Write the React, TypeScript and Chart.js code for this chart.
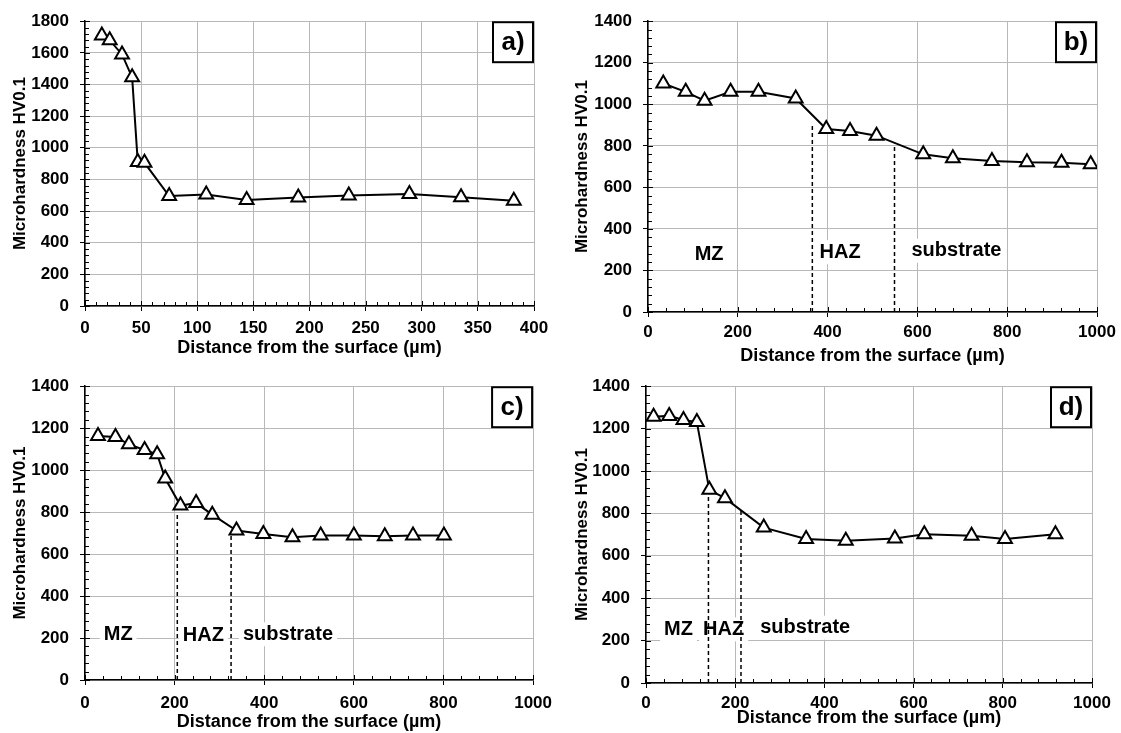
import React, { useEffect, useRef } from 'react';
import { Chart, registerables } from 'chart.js';

Chart.register(...registerables);
Chart.defaults.font.family = "'Liberation Sans', Arial, sans-serif";
Chart.defaults.font.weight = 'bold';
Chart.defaults.color = '#000';

// ---------- Panel a ----------
const aX = [15, 22, 33, 42, 47, 53, 75, 108, 144, 190, 235, 289, 335, 382];
const aY = [1710, 1680, 1590, 1445, 910, 905, 695, 705, 670, 685, 698, 708, 688, 665];

// ---------- Panel b ----------
const bX = [34, 84, 126, 184, 246, 329, 397, 450, 509, 613, 679, 766, 844, 921, 986];
const bY = [1100, 1060, 1017, 1060, 1060, 1028, 881, 871, 849, 759, 740, 727, 721, 719, 711];
const bDashX = [366, 549];
const bDashTop = [900, 810];
const bZoneText = ['MZ', 'HAZ', 'substrate'];
const bZoneX = [136, 428, 687];
const bZoneY = [275, 288, 295];

// ---------- Panel c ----------
const cX = [29, 68, 98, 133, 161, 179, 213, 248, 284, 338, 398, 463, 526, 600, 669, 732, 801];
const cY = [1163, 1158, 1123, 1096, 1076, 960, 831, 843, 788, 712, 696, 680, 688, 688, 685, 688, 688];
const cDashX = [206, 326];
const cDashTop = [800, 704];
const cZoneText = ['MZ', 'HAZ', 'substrate'];
const cZoneX = [74, 264, 453];
const cZoneY = [218, 212, 218];

// ---------- Panel d ----------
const dX = [17, 52, 84, 114, 142, 177, 264, 359, 448, 558, 624, 730, 805, 918];
const dY = [1256, 1260, 1241, 1231, 911, 872, 733, 679, 671, 682, 702, 695, 679, 702];
const dDashX = [140, 213];
const dDashTop = [905, 825];
const dZoneText = ['MZ', 'HAZ', 'substrate'];
const dZoneX = [73, 174, 357];
const dZoneY = [253, 253, 261];

const xTitle = 'Distance from the surface (µm)';
const yTitle = 'Microhardness HV0.1';

type PanelCfg = {
  id: string; left: number; top: number; w: number; h: number;
  padTop: number; padRight: number; yW: number; xH: number;
  xTickPad: number; xTitlePad: number; yTickPad: number; yTitlePad: number;
  xMax: number; xStep: number; yMax: number; yStep: number;
  label: string; xs: number[]; ys: number[];
  dashX: number[]; dashTop: number[];
  zoneText: string[]; zoneX: number[]; zoneY: number[];
};

const panels: PanelCfg[] = [
  { id: 'a', left: 0, top: 0, w: 560, h: 365, padTop: 17, padRight: 26, yW: 85, xH: 59,
    xTickPad: 7, xTitlePad: 6, yTickPad: 11, yTitlePad: 10,
    xMax: 400, xStep: 50, yMax: 1800, yStep: 200, label: 'a)', xs: aX, ys: aY,
    dashX: [], dashTop: [], zoneText: [], zoneX: [], zoneY: [] },
  { id: 'b', left: 560, top: 0, w: 561, h: 368, padTop: 19, padRight: 24, yW: 88, xH: 56,
    xTickPad: 5, xTitlePad: 1, yTickPad: 11, yTitlePad: 12,
    xMax: 1000, xStep: 200, yMax: 1400, yStep: 200, label: 'b)', xs: bX, ys: bY,
    dashX: bDashX, dashTop: bDashTop, zoneText: bZoneText, zoneX: bZoneX, zoneY: bZoneY },
  { id: 'c', left: 0, top: 365, w: 560, h: 368, padTop: 20, padRight: 25, yW: 85, xH: 53,
    xTickPad: 8, xTitlePad: 0, yTickPad: 11, yTitlePad: 10,
    xMax: 1000, xStep: 200, yMax: 1400, yStep: 200, label: 'c)', xs: cX, ys: cY,
    dashX: cDashX, dashTop: cDashTop, zoneText: cZoneText, zoneX: cZoneX, zoneY: cZoneY },
  { id: 'd', left: 560, top: 365, w: 561, h: 368, padTop: 18, padRight: 29, yW: 86, xH: 50,
    xTickPad: 5, xTitlePad: 4, yTickPad: 11, yTitlePad: 12,
    xMax: 1000, xStep: 200, yMax: 1400, yStep: 200, label: 'd)', xs: dX, ys: dY,
    dashX: dDashX, dashTop: dDashTop, zoneText: dZoneText, zoneX: dZoneX, zoneY: dZoneY },
];

const FONT = "'Liberation Sans', Arial, sans-serif";

function makeChart(canvas: HTMLCanvasElement, p: PanelCfg) {
  const datasets: any[] = [
    {
      data: p.xs.map((x, i) => ({ x, y: p.ys[i] })),
      showLine: true,
      borderColor: '#000',
      borderWidth: 2,
      tension: 0,
      pointStyle: 'triangle',
      pointRadius: 8,
      pointHoverRadius: 8,
      pointBorderWidth: 2,
      pointBackgroundColor: '#fff',
      pointBorderColor: '#000',
    },
  ];
  p.dashX.forEach((x, i) => {
    datasets.push({
      data: [{ x, y: 0 }, { x, y: p.dashTop[i] }],
      showLine: true,
      borderColor: '#000',
      borderWidth: 1.5,
      borderDash: [4, 3],
      pointRadius: 0,
      pointHoverRadius: 0,
    });
  });

  const minorTicks = {
    id: 'minorTicks' + p.id,
    afterDraw(chart: any) {
      const ctx = chart.ctx;
      const { bottom, left } = chart.chartArea;
      const xs = chart.scales.x;
      const ys = chart.scales.y;
      ctx.save();
      ctx.strokeStyle = '#000';
      ctx.lineWidth = 1;
      const xn = Math.round(p.xMax / (p.xStep / 5));
      for (let i = 0; i <= xn; i++) {
        const v = (i * p.xStep) / 5;
        const px = Math.round(xs.getPixelForValue(v)) + 0.5;
        const len = i % 5 === 0 ? 5 : 4;
        ctx.beginPath();
        ctx.moveTo(px, bottom);
        ctx.lineTo(px, bottom - len);
        ctx.stroke();
      }
      const yn = Math.round(p.yMax / (p.yStep / 5));
      for (let i = 0; i <= yn; i++) {
        const v = (i * p.yStep) / 5;
        const py = Math.round(ys.getPixelForValue(v)) + 0.5;
        const len = i % 5 === 0 ? 5 : 4;
        ctx.beginPath();
        ctx.moveTo(left, py);
        ctx.lineTo(left + len, py);
        ctx.stroke();
      }
      ctx.restore();
    },
  };

  const zoneLabels = {
    id: 'zones' + p.id,
    beforeDatasetsDraw(chart: any) {
      const ctx = chart.ctx;
      const xs = chart.scales.x;
      const ys = chart.scales.y;
      ctx.save();
      ctx.font = `bold 20px ${FONT}`;
      ctx.textAlign = 'center';
      ctx.textBaseline = 'middle';
      p.zoneText.forEach((t, i) => {
        const cx = xs.getPixelForValue(p.zoneX[i]);
        const cy = ys.getPixelForValue(p.zoneY[i]);
        const w = ctx.measureText(t).width;
        ctx.fillStyle = '#fff';
        ctx.fillRect(cx - w / 2 - 4, cy - 12, w + 8, 24);
        ctx.fillStyle = '#000';
        ctx.fillText(t, cx, cy);
      });
      ctx.restore();
    },
  };

  const panelBox = {
    id: 'box' + p.id,
    afterDraw(chart: any) {
      const ctx = chart.ctx;
      const { right, top } = chart.chartArea;
      const size = 42;
      ctx.save();
      ctx.fillStyle = '#fff';
      ctx.fillRect(right - size, top, size, size);
      ctx.strokeStyle = '#000';
      ctx.lineWidth = 2;
      ctx.strokeRect(right - size + 1, top + 1, size - 2, size - 2);
      ctx.fillStyle = '#000';
      ctx.font = `bold 26px ${FONT}`;
      ctx.textAlign = 'center';
      ctx.textBaseline = 'middle';
      ctx.fillText(p.label, right - size / 2, top + size / 2 + 1);
      ctx.restore();
    },
  };

  const plain = (v: any) => String(v);

  return new Chart(canvas, {
    type: 'scatter',
    data: { datasets },
    options: {
      animation: false,
      responsive: false,
      events: [],
      layout: { padding: { left: 0, top: p.padTop, right: p.padRight, bottom: 0 } },
      plugins: { legend: { display: false }, tooltip: { enabled: false } },
      scales: {
        x: {
          type: 'linear',
          min: 0,
          max: p.xMax,
          ticks: {
            stepSize: p.xStep,
            padding: p.xTickPad,
            autoSkip: false,
            maxRotation: 0,
            color: '#000',
            font: { size: 17, weight: 'bold', family: FONT },
            callback: plain,
          },
          grid: { color: '#b8b8b8', lineWidth: 1, drawTicks: true, tickLength: 5, tickColor: '#000' },
          border: { color: '#000', width: 1.5 },
          title: {
            display: true,
            text: xTitle,
            color: '#000',
            font: { size: 18, weight: 'bold', family: FONT },
            padding: { top: 0, bottom: p.xTitlePad },
          },
          afterFit: (s: any) => { s.height = p.xH; },
        },
        y: {
          type: 'linear',
          min: 0,
          max: p.yMax,
          ticks: {
            stepSize: p.yStep,
            padding: p.yTickPad,
            autoSkip: false,
            color: '#000',
            font: { size: 17, weight: 'bold', family: FONT },
            callback: plain,
          },
          grid: { color: '#b8b8b8', lineWidth: 1, drawTicks: true, tickLength: 5, tickColor: '#000' },
          border: { color: '#000', width: 1.5 },
          title: {
            display: true,
            text: yTitle,
            color: '#000',
            font: { size: 17, weight: 'bold', family: FONT },
            padding: { top: p.yTitlePad, bottom: 0 },
          },
          afterFit: (s: any) => { s.width = p.yW; },
        },
      },
    } as any,
    plugins: [zoneLabels, minorTicks, panelBox],
  });
}

function Panel({ p }: { p: PanelCfg }) {
  const ref = useRef<HTMLCanvasElement | null>(null);
  useEffect(() => {
    if (!ref.current) return;
    const chart = makeChart(ref.current, p);
    return () => chart.destroy();
  }, [p]);
  return (
    <div style={{ position: 'absolute', left: p.left, top: p.top, width: p.w, height: p.h }}>
      <canvas ref={ref} width={p.w} height={p.h} style={{ width: p.w, height: p.h, display: 'block' }} />
    </div>
  );
}

export default function App() {
  return (
    <div style={{ position: 'absolute', left: 0, top: 0, width: 1121, height: 733, background: '#fff', overflow: 'hidden' }}>
      {panels.map((p) => (
        <Panel key={p.id} p={p} />
      ))}
    </div>
  );
}
